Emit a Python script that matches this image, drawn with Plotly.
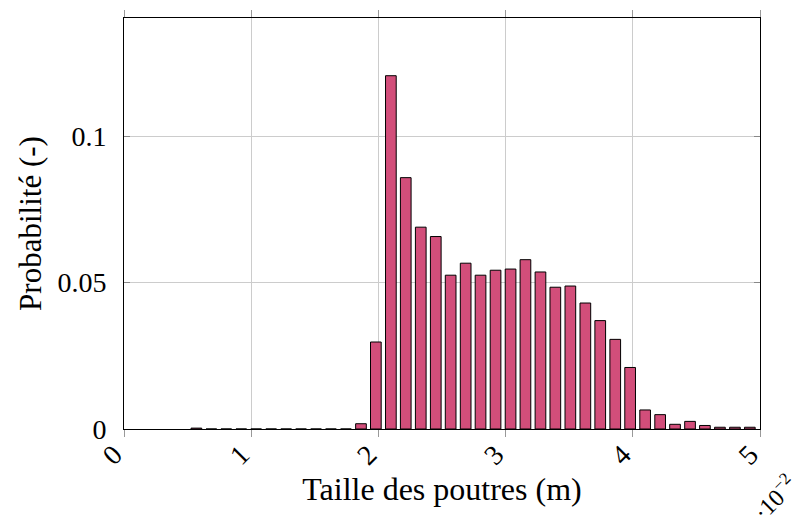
import plotly.graph_objects as go

# Bin centres (units of 1e-2 m) and probabilities
bin_centers = [0.569, 0.687, 0.804, 0.922, 1.039, 1.157, 1.275, 1.392, 1.510, 1.627,
               1.745, 1.863, 1.980, 2.098, 2.215, 2.333, 2.451, 2.568, 2.686, 2.803,
               2.921, 3.039, 3.156, 3.274, 3.391, 3.509, 3.627, 3.744, 3.862, 3.979,
               4.097, 4.215, 4.332, 4.450, 4.567, 4.685, 4.803, 4.920]
probabilities = [0.0003, 0, 0, 0, 0, 0, 0, 0, 0, 0,
                 0, 0.0018, 0.0297, 0.1206, 0.0858, 0.0689, 0.0657, 0.0525, 0.0566, 0.0525,
                 0.0542, 0.0546, 0.0578, 0.0536, 0.0484, 0.0488, 0.0430, 0.0370, 0.0306, 0.0210,
                 0.0065, 0.0049, 0.0016, 0.0026, 0.0012, 0.0006, 0.0006, 0.0006]
x_ticks = [0, 1, 2, 3, 4, 5]
y_ticks = [0, 0.05, 0.1]
y_tick_labels = ["0", "0.05", "0.1"]

FONT = "Liberation Serif"

fig = go.Figure()
fig.add_trace(go.Bar(
    x=bin_centers, y=probabilities, width=0.084,
    marker=dict(color="#d24e7a", line=dict(color="black", width=1)),
))

fig.update_layout(
    width=805, height=527,
    margin=dict(l=116, r=53, t=10, b=106),
    paper_bgcolor="white", plot_bgcolor="white",
    showlegend=False,
    font=dict(family=FONT, size=28, color="black"),
)
fig.update_xaxes(
    automargin=False,
    range=[0, 5], tickvals=x_ticks, ticktext=[str(v) for v in x_ticks],
    tickangle=-45, ticks="outside", ticklen=7, tickcolor="#999999", tickwidth=1,
    ticklabelstandoff=-10, ticklabelshift=-10,
    showline=True, linecolor="black", linewidth=1, mirror="ticks",
    showgrid=True, gridcolor="#cccccc", gridwidth=1, zeroline=False,
    title=dict(text="Taille des poutres (m)", standoff=6,
               font=dict(family=FONT, size=32)),
    tickfont=dict(family=FONT, size=28),
)
fig.update_yaxes(
    automargin=False,
    range=[0, 0.1403], tickvals=y_ticks, ticktext=y_tick_labels,
    ticks="inside", ticklen=6, tickcolor="#888888", tickwidth=1,
    showline=True, linecolor="black", linewidth=1, mirror="ticks",
    showgrid=True, gridcolor="#cccccc", gridwidth=1, zeroline=False,
    ticklabelstandoff=11,
    title=dict(text="Probabilité (-)", standoff=6, font=dict(family=FONT, size=31)),
    tickfont=dict(family=FONT, size=28),
)
fig.add_annotation(
    x=1.0, y=0, xref="paper", yref="paper", xanchor="center", yanchor="middle",
    xshift=14, yshift=-68, text="·10<sup>−2</sup>", showarrow=False, textangle=-45,
    font=dict(family=FONT, size=24, color="black"),
)

fig.write_html("out.html")
